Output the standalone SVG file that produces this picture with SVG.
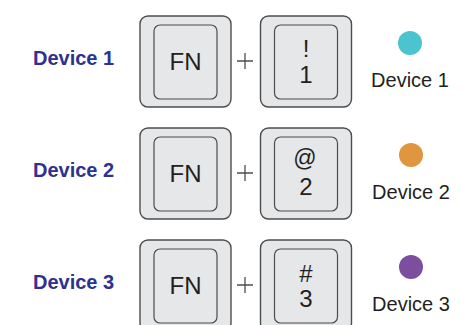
<svg xmlns="http://www.w3.org/2000/svg" width="476" height="325" viewBox="0 0 476 325">
<defs>
<style>
.outer{fill:#e6e7e8;stroke:#4d4d4d;stroke-width:1.4}
.inner{fill:#e6e7e8;stroke:#4d4d4d;stroke-width:1.2}
.key{font-family:"Liberation Sans",Arial,sans-serif;font-size:24px;fill:#231f20;text-anchor:middle}
.lbl{font-family:"Liberation Sans",Arial,sans-serif;font-size:20px;font-weight:bold;fill:#2e3192}
.dev{font-family:"Liberation Sans",Arial,sans-serif;font-size:20px;fill:#231f20;text-anchor:middle}
.plus{stroke:#4d4d4d;stroke-width:1.3;fill:none}
</style>
<g id="keyshape">
<rect class="outer" x="0" y="0" width="91" height="91" rx="8"/>
<rect class="inner" x="14" y="9" width="63" height="74" rx="6"/>
</g>
</defs>
<g id="connectors">
<path class="plus" d="M237 61H253M245 53V69"/>
<path class="plus" d="M237 173H253M245 165V181"/>
<path class="plus" d="M237 285H253M245 277V293"/>
</g>
<g id="row1">
<text class="lbl" x="33" y="65">Device 1</text>
<g id="fn1"><use href="#keyshape" x="140" y="16"/><text class="key" x="185.5" y="70">FN</text></g>
<g id="k1"><use href="#keyshape" x="260.5" y="16"/><text class="key" x="306" y="57">!</text><text class="key" x="306" y="83">1</text></g>
<g id="dot1"><circle cx="410" cy="43" r="12" fill="#4bc4cf"/><text class="dev" x="410" y="87">Device 1</text></g>
</g>
<g id="row2">
<text class="lbl" x="33" y="177">Device 2</text>
<g id="fn2"><use href="#keyshape" x="140" y="128"/><text class="key" x="185.5" y="182">FN</text></g>
<g id="k2"><use href="#keyshape" x="260.5" y="128"/><text class="key" x="305" y="166" style="font-size:23px">@</text><text class="key" x="306" y="195">2</text></g>
<g id="dot2"><circle cx="411" cy="155" r="12" fill="#e0963f"/><text class="dev" x="411" y="199">Device 2</text></g>
</g>
<g id="row3">
<text class="lbl" x="33" y="289">Device 3</text>
<g id="fn3"><use href="#keyshape" x="140" y="240"/><text class="key" x="185.5" y="294">FN</text></g>
<g id="k3"><use href="#keyshape" x="260.5" y="240"/><text class="key" x="306" y="282">#</text><text class="key" x="306" y="307">3</text></g>
<g id="dot3"><circle cx="411" cy="267" r="12" fill="#7b4f9e"/><text class="dev" x="411" y="311">Device 3</text></g>
</g>
</svg>
